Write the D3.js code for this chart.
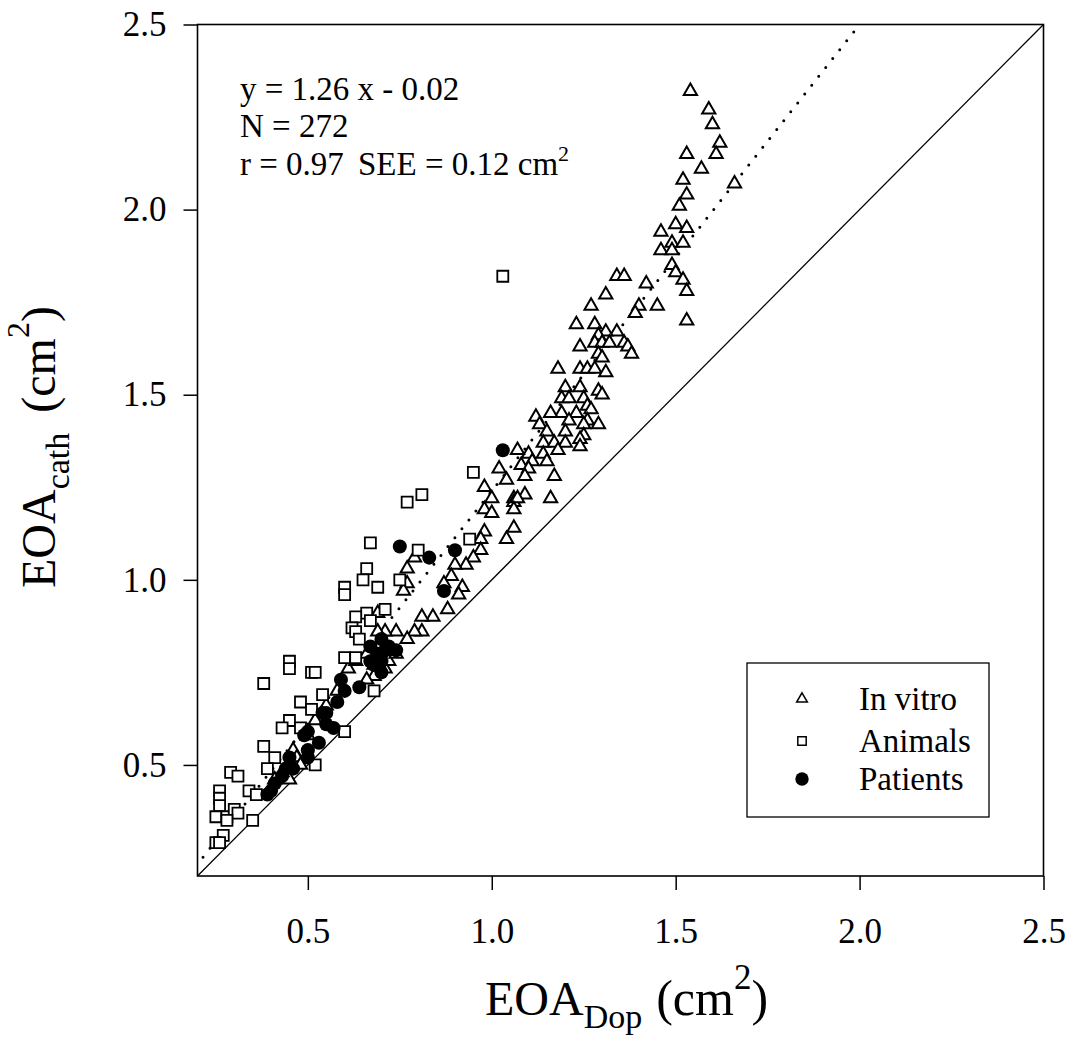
<!DOCTYPE html>
<html>
<head>
<meta charset="utf-8">
<script src="https://cdn.jsdelivr.net/npm/d3@7"></script>
<style>
  html, body { margin: 0; padding: 0; background: #fff; }
  svg { display: block; }
  text { font-family: "Liberation Serif", "Times New Roman", serif; fill: #000; }
</style>
</head>
<body>
<svg id="chart" width="1071" height="1042"></svg>
<script>
// ---------------- data ----------------
const xTicks = [0.5, 1.0, 1.5, 2.0, 2.5];
const yTicks = [0.5, 1.0, 1.5, 2.0, 2.5];
const seriesNames = ["In vitro", "Animals", "Patients"];

const regression = { slope: 1.26, intercept: -0.02, xStart: 0.215, xEnd: 2.0 };
const statsLines = ["y = 1.26 x - 0.02", "N = 272", "r = 0.97", "SEE = 0.12 cm"];

const inVitro = [
  [1.54,2.32],[1.59,2.27],[1.60,2.23],[1.62,2.18],[1.53,2.15],[1.61,2.15],[1.57,2.11],[1.66,2.07],
  [1.52,2.08],[1.53,2.04],[1.51,2.01],[1.50,1.96],[1.53,1.95],[1.46,1.94],[1.49,1.91],[1.52,1.91],
  [1.46,1.89],[1.49,1.89],[1.49,1.85],[1.50,1.83],[1.52,1.81],[1.53,1.78],[1.53,1.70],
  [1.34,1.82],[1.36,1.82],[1.31,1.77],[1.42,1.80],[1.40,1.74],[1.45,1.74],[1.39,1.72],[1.34,1.67],
  [1.31,1.67],[1.36,1.64],
  [1.27,1.74],[1.23,1.69],[1.28,1.69],[1.29,1.66],[1.24,1.63],[1.28,1.64],[1.30,1.64],[1.32,1.64],
  [1.37,1.63],[1.38,1.61],[1.29,1.61],[1.30,1.60],[1.24,1.57],[1.26,1.57],
  [1.18,1.57],[1.28,1.57],[1.31,1.56],[1.20,1.52],[1.24,1.52],[1.29,1.51],[1.30,1.50],[1.19,1.49],
  [1.21,1.49],[1.25,1.49],[1.26,1.47],[1.27,1.46],[1.23,1.45],[1.19,1.45],[1.16,1.45],[1.12,1.44],
  [1.26,1.43],[1.29,1.42],[1.21,1.43],[1.25,1.42],[1.13,1.42],[1.15,1.40],[1.20,1.40],[1.25,1.39],
  [1.14,1.37],[1.17,1.37],[1.20,1.37],[1.24,1.38],[1.24,1.36],[1.18,1.35],[1.14,1.34],[1.10,1.34],
  [1.07,1.35],[1.11,1.32],[1.15,1.32],[1.08,1.31],[1.10,1.30],[1.02,1.30],[1.04,1.27],[1.09,1.28],
  [1.17,1.28],[0.98,1.25],[1.00,1.22],[1.06,1.22],[1.09,1.23],[1.16,1.22],
  [0.98,1.19],[1.00,1.18],[1.06,1.21],[1.07,1.22],[1.06,1.19],[1.06,1.14],[1.04,1.11],[0.98,1.13],
  [0.97,1.11],[0.97,1.08],[0.95,1.06],[0.93,1.04],[0.90,1.04],[0.89,1.01],[0.87,0.99],[0.92,0.98],
  [0.91,0.96],[0.88,0.92],[0.79,1.06],[0.77,1.03],[0.77,0.99],[0.76,0.97],[0.84,0.90],[0.81,0.90],
  [0.81,0.86],[0.79,0.86],[0.74,0.86],[0.77,0.84],[0.71,0.86],[0.69,0.91],[0.69,0.86],[0.71,0.76],
  [0.61,0.76],[0.68,0.74],[0.66,0.73],[0.46,0.54],[0.45,0.46],
  [0.70,0.79],[0.72,0.78],[0.66,0.80],[0.74,0.80],[0.68,0.77],[0.63,0.78],[0.58,0.70],[0.55,0.66],
  [0.52,0.62],[0.50,0.58],[0.47,0.52],[0.43,0.48],[0.41,0.46],[0.48,0.50]
];

const animals = [
  [1.03,1.82],[0.95,1.29],[0.81,1.23],[0.77,1.21],[0.67,1.10],[0.80,1.08],[0.66,1.03],[0.65,1.00],
  [0.69,0.98],[0.60,0.98],[0.60,0.96],[0.75,1.00],[0.94,1.11],[0.71,0.92],[0.66,0.91],[0.63,0.90],
  [0.67,0.89],[0.62,0.87],[0.63,0.86],[0.64,0.84],[0.60,0.79],[0.63,0.79],[0.45,0.78],[0.45,0.76],
  [0.51,0.75],[0.52,0.75],[0.38,0.72],[0.68,0.70],[0.54,0.69],[0.48,0.67],[0.51,0.65],[0.45,0.62],
  [0.43,0.60],[0.48,0.60],[0.60,0.59],[0.38,0.55],[0.41,0.52],[0.39,0.49],[0.52,0.50],[0.29,0.48],
  [0.31,0.47],[0.34,0.43],[0.36,0.42],[0.26,0.43],[0.26,0.41],[0.26,0.39],[0.25,0.36],[0.28,0.36],
  [0.30,0.38],[0.31,0.37],[0.28,0.35],[0.35,0.35],[0.27,0.31],[0.25,0.29],[0.26,0.29]
];

const patients = [
  [1.03,1.35],[0.75,1.09],[0.83,1.06],[0.90,1.08],[0.87,0.97],
  [0.67,0.82],[0.70,0.84],[0.71,0.81],[0.72,0.82],[0.69,0.80],[0.67,0.78],[0.74,0.81],[0.68,0.77],
  [0.70,0.78],[0.70,0.75],
  [0.59,0.73],[0.64,0.71],[0.60,0.70],[0.58,0.67],[0.54,0.64],[0.55,0.64],[0.55,0.61],[0.57,0.60],
  [0.50,0.59],[0.49,0.58],[0.53,0.56],[0.50,0.54],[0.50,0.52],[0.45,0.52],[0.44,0.49],[0.46,0.49],
  [0.43,0.47],[0.41,0.45],[0.40,0.43],[0.39,0.42]
];

// ---------------- layout ----------------
const svg = d3.select("#chart");
const L = 197.5, R = 1043.5, T = 24.5, B = 876;
const x = d3.scaleLinear().domain([0.2, 2.5]).range([L, R]);
const y = d3.scaleLinear().domain([0.2, 2.5]).range([B, T]);
const fmt = d3.format(".1f");

// axes
const gx = svg.append("g").attr("transform", `translate(0,${B})`)
  .call(d3.axisBottom(x).tickValues(xTicks).tickFormat(fmt).tickSize(14).tickPadding(28));
const gy = svg.append("g").attr("transform", `translate(${L},0)`)
  .call(d3.axisLeft(y).tickValues(yTicks).tickFormat(fmt).tickSize(14).tickPadding(17));
[gx, gy].forEach(g => {
  g.select(".domain").remove();
  g.attr("font-family", null).attr("font-size", null);
  g.selectAll("line").attr("stroke", "#000").attr("stroke-width", 1.5);
  g.selectAll("text").style("font-size", "35px")
    .style("font-family", '"Liberation Serif", "Times New Roman", serif').attr("fill", "#000");
});

// frame
svg.append("rect").attr("x", L).attr("y", T).attr("width", R - L).attr("height", B - T)
  .attr("fill", "none").attr("stroke", "#000").attr("stroke-width", 1.6);

// identity line
svg.append("line")
  .attr("x1", x(0.2)).attr("y1", y(0.2)).attr("x2", x(2.5)).attr("y2", y(2.5))
  .attr("stroke", "#000").attr("stroke-width", 1.3);

// regression dotted line
const rx = [regression.xStart, regression.xEnd];
svg.append("line")
  .attr("x1", x(rx[0])).attr("y1", y(regression.slope * rx[0] + regression.intercept))
  .attr("x2", x(rx[1])).attr("y2", y(regression.slope * rx[1] + regression.intercept))
  .attr("stroke", "#000").attr("stroke-width", 3)
  .attr("stroke-linecap", "round").attr("stroke-dasharray", "0,11.3");

// markers
const triSym = d3.symbol(d3.symbolTriangle, 76);
const sqSym = d3.symbol(d3.symbolSquare, 121);
const cirSym = d3.symbol(d3.symbolCircle, 155);

svg.append("g").selectAll("path").data(inVitro).join("path")
  .attr("d", triSym).attr("transform", d => `translate(${x(d[0])},${y(d[1])})`)
  .attr("fill", "#fff").attr("stroke", "#000").attr("stroke-width", 2);

svg.append("g").selectAll("path").data(animals).join("path")
  .attr("d", sqSym).attr("transform", d => `translate(${x(d[0])},${y(d[1])})`)
  .attr("fill", "#fff").attr("stroke", "#000").attr("stroke-width", 1.8);

svg.append("g").selectAll("path").data(patients).join("path")
  .attr("d", cirSym).attr("transform", d => `translate(${x(d[0])},${y(d[1])})`)
  .attr("fill", "#000").attr("stroke", "none");

// stats text
const st = svg.append("g").style("font-size", "33px");
st.append("text").attr("x", 240).attr("y", 100).text(statsLines[0]);
st.append("text").attr("x", 240).attr("y", 137).text(statsLines[1]);
st.append("text").attr("x", 240).attr("y", 175).text(statsLines[2]);
const see = st.append("text").attr("x", 358).attr("y", 175);
see.append("tspan").text(statsLines[3]);
see.append("tspan").attr("dy", -14).style("font-size", "22px").text("2");

// legend
const lg = svg.append("g");
lg.append("rect").attr("x", 747).attr("y", 663).attr("width", 242).attr("height", 154)
  .attr("fill", "#fff").attr("stroke", "#000").attr("stroke-width", 1.3);
const legY = [699, 741, 779];
const legSyms = [d3.symbol(d3.symbolTriangle, 50), d3.symbol(d3.symbolSquare, 70), d3.symbol(d3.symbolCircle, 140)];
seriesNames.forEach((name, i) => {
  lg.append("path").attr("d", legSyms[i]).attr("transform", `translate(802,${legY[i]})`)
    .attr("fill", i === 2 ? "#000" : "#fff").attr("stroke", i === 2 ? "none" : "#000")
    .attr("stroke-width", 1.5);
  lg.append("text").attr("x", 859).attr("y", legY[i] + 11).style("font-size", "33px").text(name);
});

// x-axis title
const xt = svg.append("text").attr("x", 485).attr("y", 1015).style("font-size", "48px");
xt.append("tspan").text("EOA");
xt.append("tspan").attr("dy", 13).style("font-size", "34px").text("Dop");
xt.append("tspan").attr("dy", -13).attr("dx", 14).style("font-size", "50px").text("(cm");
xt.append("tspan").attr("dy", -26).style("font-size", "35px").text("2");
xt.append("tspan").attr("dy", 26).style("font-size", "50px").text(")");

// y-axis title
const yt = svg.append("text").attr("transform", "translate(55,588) rotate(-90)").style("font-size", "48px");
yt.append("tspan").text("EOA");
yt.append("tspan").attr("dy", 14).style("font-size", "34px").text("cath");
yt.append("tspan").attr("dy", -14).attr("dx", 20).text("(cm");
yt.append("tspan").attr("dy", -26).style("font-size", "32px").text("2");
yt.append("tspan").attr("dy", 26).text(")");
</script>
</body>
</html>
